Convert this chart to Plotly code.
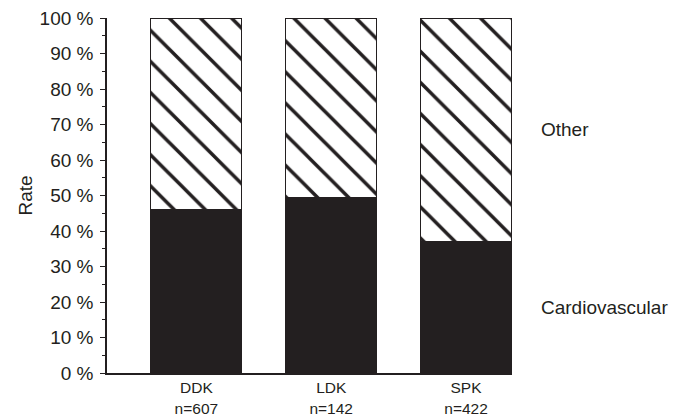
import plotly.graph_objects as go

categories = ["DDK", "LDK", "SPK"]
n_labels = ["n=607", "n=142", "n=422"]
cardiovascular = [46.0, 49.3, 37.0]
other = [54.0, 50.7, 63.0]
y_ticks = [0, 10, 20, 30, 40, 50, 60, 70, 80, 90, 100]

DARK = "#231f20"
FONT = "Liberation Sans, Arial, Helvetica, sans-serif"

xs = list(range(len(categories)))
ticktext = [f"{c}<br>{n}" for c, n in zip(categories, n_labels)]
y_ticktext = [f"{v} %" for v in y_ticks]

fig = go.Figure()
fig.add_trace(go.Bar(
    x=xs, y=cardiovascular, name="Cardiovascular", width=0.674,
    marker=dict(color=DARK, line=dict(color=DARK, width=1)),
))
fig.add_trace(go.Bar(
    x=xs, y=other, name="Other", width=0.674,
    marker=dict(color="white", line=dict(color=DARK, width=1),
                pattern=dict(shape="\\", fgcolor=DARK, bgcolor="white",
                             fgopacity=1, size=22, solidity=0.16)),
))

last = len(categories) - 1
fig.add_annotation(x=1.0667, xref="paper", y=cardiovascular[last] + other[last] / 2,
                   yref="y", text="Other", showarrow=False, xanchor="left",
                   font=dict(size=19, color=DARK, family=FONT))
fig.add_annotation(x=1.0667, xref="paper", y=cardiovascular[last] / 2,
                   yref="y", text="Cardiovascular", showarrow=False, xanchor="left",
                   font=dict(size=19, color=DARK, family=FONT))

fig.update_layout(
    barmode="stack", showlegend=False,
    width=685, height=417,
    margin=dict(l=107, r=173, t=18, b=44),
    paper_bgcolor="white", plot_bgcolor="white",
    font=dict(family=FONT, color=DARK),
)
fig.update_xaxes(
    range=[-0.663, 2.341], tickvals=xs, ticktext=ticktext,
    showline=True, linecolor=DARK, linewidth=1.5, ticks="",
    showgrid=False, zeroline=False, tickfont=dict(size=15.5, color=DARK),
    automargin=False, ticklabelstandoff=0,
)
fig.update_yaxes(
    range=[0, 100], tickvals=y_ticks, ticktext=y_ticktext,
    showline=True, linecolor=DARK, linewidth=1.5,
    ticks="outside", ticklen=5, tickwidth=1.2, tickcolor=DARK,
    minor=dict(dtick=5, ticks="outside", ticklen=3, tickwidth=1.2, tickcolor=DARK),
    showgrid=False, zeroline=False, tickfont=dict(size=19, color=DARK),
    automargin=False, ticklabelstandoff=3,
    title=dict(text="Rate", font=dict(size=19, color=DARK), standoff=2),
)

fig.write_html(
    "out.html",
    config={"displayModeBar": False},
    post_script="document.body.style.margin='0';document.body.style.overflow='hidden';",
)
